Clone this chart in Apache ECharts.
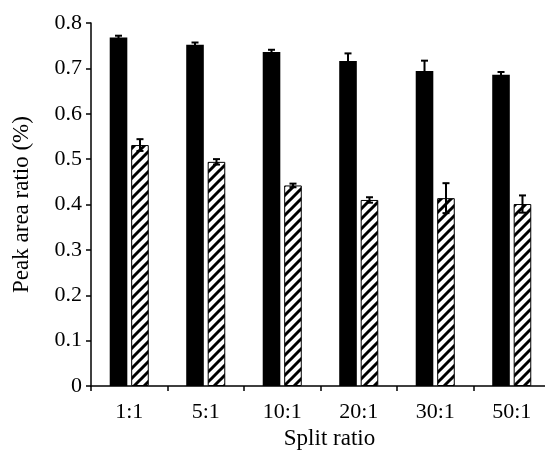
<!DOCTYPE html>
<html>
<head>
<meta charset="utf-8">
<script src="https://cdn.jsdelivr.net/npm/echarts@6/dist/echarts.min.js"></script>
<style>html,body{margin:0;padding:0;background:#fff}#c{width:545px;height:452px}</style>
</head>
<body>
<div id="c"></div>
<script>
var categories = ['1:1', '5:1', '10:1', '20:1', '30:1', '50:1'];
var solidValues = [0.768, 0.752, 0.736, 0.716, 0.694, 0.686];
var solidErrors = [0.004, 0.005, 0.005, 0.017, 0.023, 0.006];
var hatchValues = [0.531, 0.494, 0.442, 0.410, 0.414, 0.401];
var hatchErrors = [0.013, 0.006, 0.004, 0.006, 0.033, 0.019];
var yTicks = { min: 0, max: 0.8, interval: 0.1 };

var FONT = "'Liberation Serif', 'Times New Roman', serif";
var BAR_W = 0.23, BAR_GAP = 0.22;

function makeHatch() {
  var s = 10;
  var cv = document.createElement('canvas');
  cv.width = s; cv.height = s;
  var ctx = cv.getContext('2d');
  ctx.fillStyle = '#fff';
  ctx.fillRect(0, 0, s, s);
  ctx.strokeStyle = '#000';
  ctx.lineWidth = 3;
  ctx.beginPath();
  ctx.moveTo(-2, s + 2); ctx.lineTo(s + 2, -2);
  ctx.moveTo(-2, 2); ctx.lineTo(2, -2);
  ctx.moveTo(s - 2, s + 2); ctx.lineTo(s + 2, s - 2);
  ctx.stroke();
  return cv;
}

function errData(vals, errs) {
  return vals.map(function (v, i) { return [i, v, errs[i]]; });
}

function errRender(sign) {
  return function (params, api) {
    var i = api.value(0), v = api.value(1), e = api.value(2);
    var bw = api.size([1, 0])[0];
    var off = sign * bw * (BAR_W + BAR_W * BAR_GAP) / 2;
    var top = api.coord([i, v + e]);
    var bot = api.coord([i, v - e]);
    var x = top[0] + off;
    var cap = 3.5;
    var st = { stroke: '#000', lineWidth: 2 };
    return {
      type: 'group',
      children: [
        { type: 'line', shape: { x1: x, y1: top[1], x2: x, y2: bot[1] }, style: st },
        { type: 'line', shape: { x1: x - cap, y1: top[1], x2: x + cap, y2: top[1] }, style: st },
        { type: 'line', shape: { x1: x - cap, y1: bot[1], x2: x + cap, y2: bot[1] }, style: st }
      ]
    };
  };
}

var chart = echarts.init(document.getElementById('c'), null, { renderer: 'canvas' });
chart.setOption({
  animation: false,
  backgroundColor: '#fff',
  grid: { left: 91, right: -5, top: 23, bottom: 66, containLabel: false, outerBoundsMode: 'none' },
  xAxis: {
    type: 'category',
    data: categories,
    name: 'Split ratio',
    nameLocation: 'middle',
    nameGap: 40,
    nameTextStyle: { fontFamily: FONT, fontSize: 23, color: '#000', padding: [0, 0, 0, 18] },
    axisLine: { lineStyle: { color: '#000', width: 1.5 } },
    axisTick: { show: true, length: 5, lineStyle: { color: '#000', width: 1.5 } },
    axisLabel: { fontFamily: FONT, fontSize: 22, color: '#000', margin: 15 },
    splitLine: { show: false }
  },
  yAxis: {
    type: 'value',
    min: yTicks.min, max: yTicks.max, interval: yTicks.interval,
    name: 'Peak area ratio (%)',
    nameLocation: 'middle',
    nameGap: 58,
    nameTextStyle: { fontFamily: FONT, fontSize: 23, color: '#000' },
    axisLine: { show: true, lineStyle: { color: '#000', width: 1.5 } },
    axisTick: { show: true, length: 5, lineStyle: { color: '#000', width: 1.5 } },
    axisLabel: {
      fontFamily: FONT, fontSize: 22, color: '#000', margin: 9,
      formatter: function (v) { return v === 0 ? '0' : v.toFixed(1); }
    },
    splitLine: { show: false }
  },
  series: [
    {
      type: 'bar', data: solidValues,
      barWidth: (BAR_W * 100) + '%', barGap: (BAR_GAP * 100) + '%',
      itemStyle: { color: '#000' }, z: 2
    },
    {
      type: 'bar', data: hatchValues,
      barWidth: (BAR_W * 100) + '%', barGap: (BAR_GAP * 100) + '%',
      itemStyle: { color: { image: makeHatch(), repeat: 'repeat' }, borderColor: '#000', borderWidth: 1 }, z: 2
    },
    {
      type: 'custom', data: errData(solidValues, solidErrors),
      encode: { x: 0, y: 1 }, renderItem: errRender(-1), z: 3, silent: true
    },
    {
      type: 'custom', data: errData(hatchValues, hatchErrors),
      encode: { x: 0, y: 1 }, renderItem: errRender(1), z: 3, silent: true
    }
  ]
});
</script>
</body>
</html>
